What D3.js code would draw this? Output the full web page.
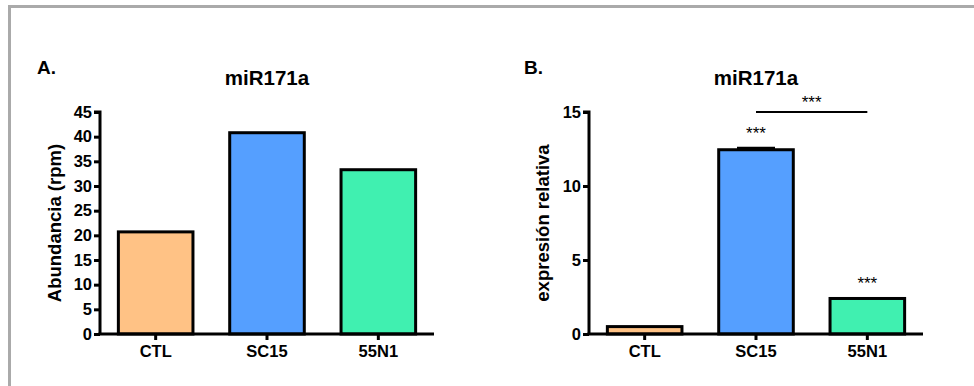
<!DOCTYPE html>
<html>
<head>
<meta charset="utf-8">
<script src="https://cdn.jsdelivr.net/npm/d3@7"></script>
<style>
  html, body { margin: 0; padding: 0; background: #fff; overflow: hidden; }
  svg { display: block; }
  text { font-family: "Liberation Sans", Arial, sans-serif; }
</style>
</head>
<body>
<svg id="fig" width="974" height="386"></svg>
<script>
// Groups shared by both panels
const categories = ["CTL", "SC15", "55N1"];
const barColors = ["#FFC285", "#559FFF", "#40F0B0"];

// Panel A: small RNA abundance (reads per million)
const abundance = [20.7, 40.8, 33.3];
const abundanceTicks = [0, 5, 10, 15, 20, 25, 30, 35, 40, 45];

// Panel B: relative expression (qPCR), mean and SEM
const expression = [0.5, 12.45, 2.4];
const expressionErr = [0, 0.1, 0];
const expressionTicks = [0, 5, 10, 15];
const expressionStars = ["", "***", "***"];
const comparisonPair = ["SC15", "55N1"];
const comparisonLabel = "***";

const svg = d3.select("#fig");

// outer frame (top and left edges fall inside the figure)
svg.append("path")
  .attr("d", "M9.5,400V6.5H1000")
  .attr("fill", "none").attr("stroke", "#aaaaaa").attr("stroke-width", 3);

function panel(opts) {
  const g = svg.append("g");
  const x = d3.scaleBand().domain(categories)
    .range([opts.x0, opts.x1]).paddingInner(0.33).paddingOuter(0.165);
  const y = d3.scaleLinear().domain(opts.domain).range([334, 112]);

  // bars
  g.selectAll("rect.bar").data(opts.values).join("rect")
    .attr("class", "bar")
    .attr("x", (d, i) => x(categories[i]))
    .attr("width", x.bandwidth())
    .attr("y", d => y(d))
    .attr("height", d => y(0) - y(d))
    .attr("fill", (d, i) => barColors[i])
    .attr("stroke", "#000").attr("stroke-width", 3);

  // error bars (upper half only)
  if (opts.errors) {
    opts.values.forEach((v, i) => {
      const e = opts.errors[i];
      if (!e) return;
      const cx = x(categories[i]) + x.bandwidth() / 2;
      g.append("line")
        .attr("x1", cx - 19).attr("x2", cx + 19)
        .attr("y1", y(v + e)).attr("y2", y(v + e))
        .attr("stroke", "#000").attr("stroke-width", 3);
      g.append("line")
        .attr("x1", cx).attr("x2", cx)
        .attr("y1", y(v)).attr("y2", y(v + e))
        .attr("stroke", "#000").attr("stroke-width", 3);
    });
  }

  // y axis
  const yAxis = d3.axisLeft(y).tickValues(opts.ticks).tickSize(6).tickPadding(2)
    .tickFormat(d3.format("d"));
  const ya = g.append("g").attr("transform", `translate(${opts.x0},0)`).call(yAxis);
  ya.select(".domain").attr("stroke-width", 3).attr("d", `M-6,${y(opts.domain[1])}H0V${y(0)}`);
  ya.selectAll(".tick line").attr("stroke-width", 3);
  ya.selectAll(".tick text").attr("font-size", 16.5).attr("font-weight", "bold")
    .attr("fill", "#000").attr("font-family", "Liberation Sans, Arial, sans-serif");

  // x axis
  const xAxis = d3.axisBottom(x).tickSize(6).tickPadding(5);
  const xa = g.append("g").attr("transform", `translate(0,${y(0)})`).call(xAxis);
  xa.select(".domain").attr("stroke-width", 3).attr("d", `M${opts.x0 - 1.5},0H${opts.x1}`);
  xa.selectAll(".tick line").attr("stroke-width", 3);
  xa.selectAll(".tick text").attr("font-size", 16.5).attr("font-weight", "bold")
    .attr("fill", "#000").attr("font-family", "Liberation Sans, Arial, sans-serif");

  // titles and labels
  g.append("text").attr("x", opts.letterX).attr("y", 74)
    .attr("font-size", 19).attr("font-weight", "bold").text(opts.letter);
  g.append("text").attr("x", (opts.x0 + opts.x1) / 2).attr("y", 85)
    .attr("text-anchor", "middle").attr("font-size", 20.5).attr("font-weight", "bold")
    .text("miR171a");
  g.append("text")
    .attr("transform", `translate(${opts.labelX},223) rotate(-90)`)
    .attr("text-anchor", "middle").attr("font-size", 18.5).attr("font-weight", "bold")
    .text(opts.yLabel);

  return { g, x, y };
}

panel({
  x0: 100, x1: 434, domain: [0, 45], ticks: abundanceTicks,
  values: abundance, letter: "A.", letterX: 37, labelX: 61,
  yLabel: "Abundancia (rpm)"
});

const pB = panel({
  x0: 589, x1: 923, domain: [0, 15], ticks: expressionTicks,
  values: expression, errors: expressionErr, letter: "B.", letterX: 524, labelX: 549,
  yLabel: "expresión relativa"
});

// significance marks over panel B
expression.forEach((v, i) => {
  if (!expressionStars[i]) return;
  const cx = pB.x(categories[i]) + pB.x.bandwidth() / 2;
  pB.g.append("text").attr("x", cx).attr("y", pB.y(v + expressionErr[i]) - 9)
    .attr("text-anchor", "middle").attr("font-size", 17).text(expressionStars[i]);
});
const bx1 = pB.x(comparisonPair[0]) + pB.x.bandwidth() / 2;
const bx2 = pB.x(comparisonPair[1]) + pB.x.bandwidth() / 2;
pB.g.append("line")
  .attr("x1", bx1).attr("x2", bx2).attr("y1", pB.y(15)).attr("y2", pB.y(15))
  .attr("stroke", "#000").attr("stroke-width", 2);
pB.g.append("text").attr("x", (bx1 + bx2) / 2).attr("y", pB.y(15) - 4)
  .attr("text-anchor", "middle").attr("font-size", 17).text(comparisonLabel);
</script>
</body>
</html>
